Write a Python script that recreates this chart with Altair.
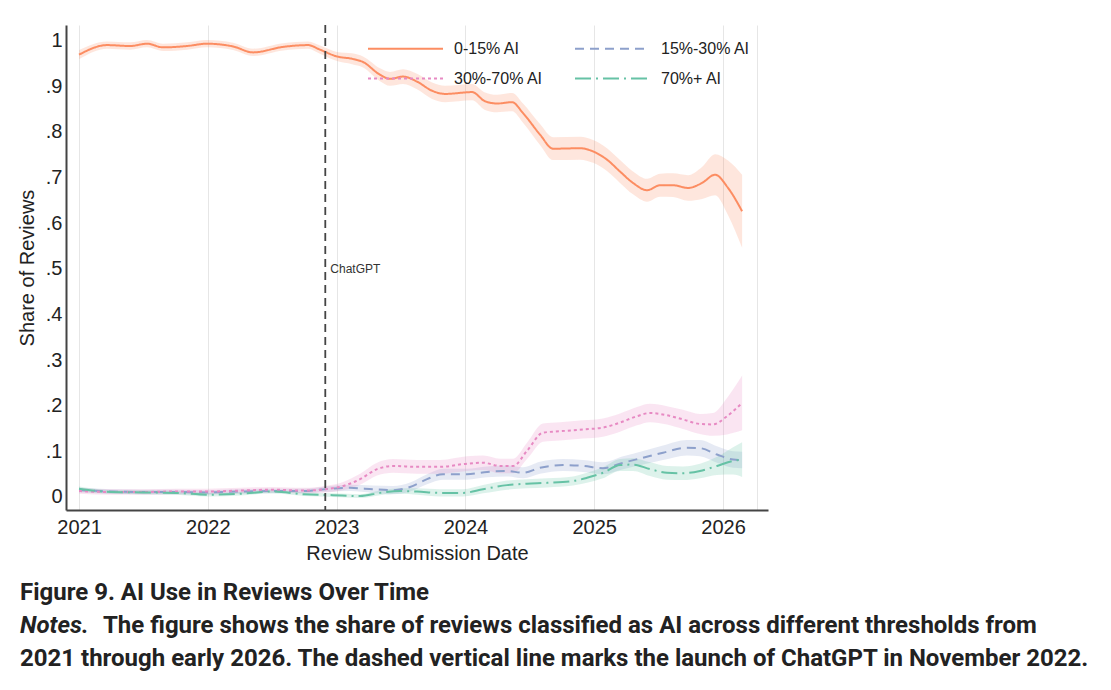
import altair as alt
import pandas as pd

# ---------------- data ----------------
SERIES = ["0-15% AI", "15%-30% AI", "30%-70% AI", "70%+ AI"]
COLORS = ["#FC8D62", "#8DA0CB", "#E78AC3", "#66C2A5"]
DASHES = [[1, 0], [9, 6], [3, 3], [16, 5, 2, 5]]

# 0-15% AI
a_x = [2021.000, 2021.217, 2021.396, 2021.528, 2021.652, 2021.839, 2021.994, 2022.196,
       2022.351, 2022.584, 2022.778, 2022.871, 2023.003, 2023.120, 2023.205, 2023.337,
       2023.415, 2023.516, 2023.624, 2023.741, 2023.842, 2024.051, 2024.152, 2024.245,
       2024.362, 2024.447, 2024.579, 2024.680, 2024.890, 2024.991, 2025.099, 2025.200,
       2025.301, 2025.410, 2025.511, 2025.612, 2025.728, 2025.837, 2025.938, 2026.039,
       2026.148]
a_y = [0.969, 0.990, 0.988, 0.993, 0.985, 0.988, 0.993, 0.987,
       0.974, 0.986, 0.990, 0.980, 0.965, 0.960, 0.953, 0.925,
       0.916, 0.921, 0.910, 0.890, 0.883, 0.887, 0.867, 0.862,
       0.865, 0.841, 0.794, 0.763, 0.764, 0.757, 0.739, 0.713,
       0.688, 0.672, 0.683, 0.683, 0.677, 0.688, 0.706, 0.677,
       0.626]
a_ci = [0.010, 0.008, 0.008, 0.008, 0.008, 0.008, 0.008, 0.008,
        0.008, 0.008, 0.008, 0.009, 0.010, 0.012, 0.012, 0.014,
        0.015, 0.016, 0.017, 0.018, 0.018, 0.018, 0.019, 0.019,
        0.020, 0.021, 0.023, 0.025, 0.025, 0.025, 0.025, 0.025,
        0.025, 0.025, 0.025, 0.026, 0.028, 0.035, 0.045, 0.060,
        0.080]

# 15%-30% AI
b_x = [2021.00, 2021.25, 2021.50, 2021.75, 2022.00, 2022.25, 2022.50, 2022.75,
       2022.910, 2023.104, 2023.283, 2023.438, 2023.570, 2023.702, 2023.826, 2024.012,
       2024.168, 2024.323, 2024.447, 2024.579, 2024.758, 2024.913, 2025.068, 2025.224,
       2025.379, 2025.534, 2025.720, 2025.821, 2025.953, 2026.078, 2026.148]
b_y = [0.015, 0.012, 0.011, 0.011, 0.010, 0.012, 0.013, 0.013,
       0.017, 0.020, 0.017, 0.015, 0.022, 0.039, 0.050, 0.050,
       0.055, 0.057, 0.053, 0.064, 0.070, 0.068, 0.063, 0.075,
       0.086, 0.097, 0.108, 0.107, 0.093, 0.082, 0.081]
b_ci = [0.005, 0.005, 0.005, 0.005, 0.005, 0.005, 0.005, 0.005,
        0.006, 0.007, 0.008, 0.009, 0.010, 0.011, 0.012, 0.012,
        0.012, 0.012, 0.012, 0.013, 0.013, 0.013, 0.013, 0.014,
        0.015, 0.016, 0.017, 0.018, 0.018, 0.018, 0.018]

# 30%-70% AI
c_x = [2021.00, 2021.25, 2021.50, 2021.75, 2022.00, 2022.25, 2022.50, 2022.75,
       2022.910, 2023.050, 2023.182, 2023.314, 2023.438, 2023.624, 2023.803, 2024.012,
       2024.137, 2024.269, 2024.370, 2024.478, 2024.602, 2024.734, 2024.913, 2025.068,
       2025.200, 2025.332, 2025.433, 2025.565, 2025.689, 2025.821, 2025.922, 2026.031,
       2026.148]
c_y = [0.013, 0.011, 0.011, 0.012, 0.012, 0.014, 0.016, 0.014,
       0.017, 0.024, 0.039, 0.061, 0.068, 0.066, 0.066, 0.073,
       0.075, 0.068, 0.068, 0.101, 0.141, 0.144, 0.148, 0.152,
       0.163, 0.177, 0.184, 0.179, 0.170, 0.160, 0.159, 0.177,
       0.206]
c_ci = [0.006, 0.006, 0.006, 0.006, 0.006, 0.006, 0.006, 0.006,
        0.007, 0.009, 0.012, 0.014, 0.015, 0.015, 0.015, 0.016,
        0.016, 0.016, 0.016, 0.018, 0.020, 0.020, 0.020, 0.020,
        0.020, 0.020, 0.020, 0.020, 0.021, 0.022, 0.025, 0.040,
        0.060]

# 70%+ AI
d_x = [2021.00, 2021.25, 2021.50, 2021.75, 2022.00, 2022.25, 2022.50, 2022.75,
       2022.972, 2023.182, 2023.337, 2023.492, 2023.624, 2023.803, 2023.981, 2024.137,
       2024.323, 2024.478, 2024.634, 2024.835, 2024.944, 2025.068, 2025.200, 2025.301,
       2025.433, 2025.565, 2025.689, 2025.821, 2025.953, 2026.078, 2026.148]
d_y = [0.018, 0.011, 0.010, 0.009, 0.005, 0.007, 0.012, 0.006,
       0.004, 0.002, 0.009, 0.013, 0.012, 0.009, 0.009, 0.017,
       0.026, 0.029, 0.031, 0.035, 0.042, 0.053, 0.070, 0.071,
       0.061, 0.053, 0.052, 0.057, 0.068, 0.079, 0.082]
d_ci = [0.005, 0.004, 0.004, 0.004, 0.004, 0.004, 0.004, 0.004,
        0.004, 0.004, 0.005, 0.006, 0.007, 0.008, 0.008, 0.009,
        0.010, 0.010, 0.010, 0.010, 0.011, 0.012, 0.013, 0.014,
        0.015, 0.015, 0.015, 0.016, 0.020, 0.030, 0.038]

CHATGPT_DATE = [2022.912]
CHATGPT_LABEL_Y = [0.50]
YEAR_TICKS = [2021, 2022, 2023, 2024, 2025, 2026]
EXTRA_GRID = [2026.26]

CAPTION_TITLE = "Figure 9. AI Use in Reviews Over Time"
CAPTION_NOTES = "Notes."
CAPTION_LINE2 = "The figure shows the share of reviews classified as AI across different thresholds from"
CAPTION_LINE3 = "2021 through early 2026. The dashed vertical line marks the launch of ChatGPT in November 2022."

# ---------------- build table ----------------
rows = []
for name, xs, ys, cis in zip(SERIES, [a_x, b_x, c_x, d_x], [a_y, b_y, c_y, d_y], [a_ci, b_ci, c_ci, d_ci]):
    for x, y, c in zip(xs, ys, cis):
        rows.append({"series": name, "date": x, "share": y, "lo": y - c, "hi": y + c})
df = pd.DataFrame(rows)

W, H = 702, 485
FONT = "Liberation Sans"

# legend is filled column by column: order so rows read (0-15, 15-30) / (30-70, 70+)
LEG_IDX = [0, 2, 1, 3]
leg_domain = [SERIES[i] for i in LEG_IDX]
leg_colors = [COLORS[i] for i in LEG_IDX]
leg_dashes = [DASHES[i] for i in LEG_IDX]

x_scale = alt.Scale(domain=[2020.899, 2026.349], nice=False, zero=False)
y_scale = alt.Scale(domain=[-0.0285, 1.034], nice=False, zero=False)
color_scale = alt.Scale(domain=leg_domain, range=leg_colors)
dash_scale = alt.Scale(domain=leg_domain, range=leg_dashes)

x_axis = alt.Axis(values=YEAR_TICKS + EXTRA_GRID,
                  labelExpr="datum.value > 2026.1 ? '' : format(datum.value, 'd')",
                  title="Review Submission Date", grid=True, gridColor="#e6e6e6",
                  ticks=False, labelPadding=7, titlePadding=6,
                  domainColor="#444444", domainWidth=2,
                  labelFontSize=20, titleFontSize=20, labelFont=FONT, titleFont=FONT,
                  labelColor="#222222", titleColor="#222222", titleFontWeight="normal")
y_axis = alt.Axis(values=[0, 0.1, 0.2, 0.3, 0.4, 0.5, 0.6, 0.7, 0.8, 0.9, 1.0],
                  labelExpr="datum.value == 0 ? '0' : (datum.value >= 0.999 ? '1' : '.' + format(datum.value * 10, '.0f'))",
                  title="Share of Reviews", grid=False, ticks=False,
                  labelPadding=4, titlePadding=8,
                  domainColor="#444444", domainWidth=2,
                  labelFontSize=20, titleFontSize=20, labelFont=FONT, titleFont=FONT,
                  labelColor="#222222", titleColor="#222222", titleFontWeight="normal")

# confidence bands, one layer per series (no legend)
band_layers = []
for name, col in zip(SERIES, COLORS):
    sub = df[df["series"] == name]
    band_layers.append(
        alt.Chart(sub).mark_area(color=col, opacity=0.22, interpolate="monotone").encode(
            x=alt.X("date:Q", scale=x_scale, axis=x_axis),
            y=alt.Y("lo:Q", scale=y_scale, axis=y_axis),
            y2="hi:Q",
        )
    )

lines = alt.Chart(df).mark_line(strokeWidth=2, interpolate="monotone").encode(
    x=alt.X("date:Q", scale=x_scale, axis=x_axis),
    y=alt.Y("share:Q", scale=y_scale, axis=y_axis),
    color=alt.Color("series:N", scale=color_scale,
                    legend=alt.Legend(title=None, orient="none", legendX=301, legendY=15,
                                      columns=2, symbolType="M-5,0H5", symbolSize=225,
                                      symbolOffset=30, symbolStrokeWidth=2,
                                      labelFontSize=16, labelFont=FONT,
                                      labelColor="#222222", columnPadding=28, rowPadding=13,
                                      labelOffset=40)),
    strokeDash=alt.StrokeDash("series:N", scale=dash_scale, legend=alt.Legend(title=None)),
)

vline_df = pd.DataFrame({"date": CHATGPT_DATE, "ly": CHATGPT_LABEL_Y, "label": ["ChatGPT"]})
vline = alt.Chart(vline_df).mark_rule(color="#444444", strokeDash=[8, 5], strokeWidth=1.8).encode(
    x=alt.X("date:Q", scale=x_scale, axis=x_axis),
    y=alt.value(0), y2=alt.value(H),
)
vtext = alt.Chart(vline_df).mark_text(align="left", baseline="middle", dx=5, fontSize=12,
                                      font=FONT, color="#333333").encode(
    x=alt.X("date:Q", scale=x_scale, axis=x_axis),
    y=alt.Y("ly:Q", scale=y_scale, axis=y_axis),
    text="label:N",
)

cap_df = pd.DataFrame({"a": [0]})
CAP_FONT = "Roboto"
CAP_SIZE = 24
cap1 = alt.Chart(cap_df).mark_text(text=CAPTION_TITLE, align="left", baseline="middle",
                                   font=CAP_FONT, fontWeight="bold", fontSize=CAP_SIZE,
                                   color="#222222").encode(x=alt.value(-46), y=alt.value(568))
cap2a = alt.Chart(cap_df).mark_text(text=CAPTION_NOTES, align="left", baseline="middle",
                                    font=CAP_FONT, fontWeight="bold", fontStyle="italic", fontSize=CAP_SIZE,
                                    color="#222222").encode(x=alt.value(-46), y=alt.value(601))
cap2b = alt.Chart(cap_df).mark_text(text=CAPTION_LINE2, align="left", baseline="middle",
                                    font=CAP_FONT, fontWeight="bold", fontSize=CAP_SIZE,
                                    color="#222222").encode(x=alt.value(37), y=alt.value(601))
cap3 = alt.Chart(cap_df).mark_text(text=CAPTION_LINE3, align="left", baseline="middle",
                                   font=CAP_FONT, fontWeight="bold", fontSize=CAP_SIZE,
                                   color="#222222").encode(x=alt.value(-46), y=alt.value(634))

chart = alt.layer(*band_layers, lines, vline, vtext, cap1, cap2a, cap2b, cap3).properties(
    width=W, height=H, background="white",
    padding={"left": 9, "top": 16, "right": 10, "bottom": 10},
).configure_view(strokeWidth=0)

chart.save("out.html", embed_options={"renderer": "svg", "actions": False})
